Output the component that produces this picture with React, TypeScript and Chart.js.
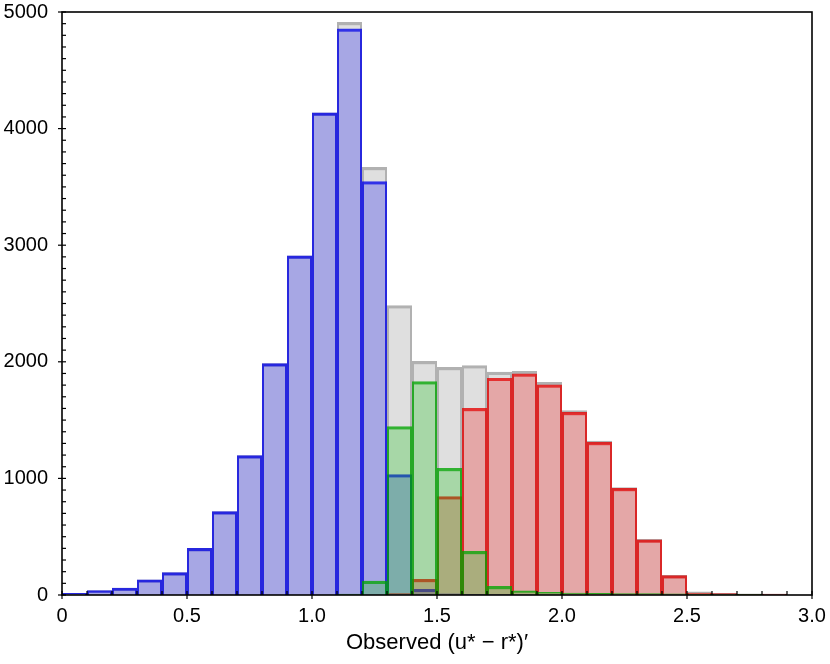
import React, { useEffect, useRef } from 'react';
import { Chart, registerables } from 'chart.js';

Chart.register(...registerables);

// Histogram bin centres (bin width 0.1, from 0.0 to 2.9)
const binCenters = [
  0.05, 0.15, 0.25, 0.35, 0.45, 0.55, 0.65, 0.75, 0.85, 0.95,
  1.05, 1.15, 1.25, 1.35, 1.45, 1.55, 1.65, 1.75, 1.85, 1.95,
  2.05, 2.15, 2.25, 2.35, 2.45, 2.55, 2.65, 2.75, 2.85,
];

// All objects (grey)
const totalCounts = [
  18, 40, 63, 134, 195, 403, 718, 1198, 1988, 2912,
  4138, 4914, 3671, 2485, 2007, 1955, 1970, 1915, 1921, 1827,
  1584, 1322, 925, 480, 172, 30, 18, 12, 10,
];

// Blue population
const blueCounts = [
  18, 40, 63, 134, 195, 403, 718, 1198, 1988, 2912,
  4138, 4858, 3548, 1035, 52, 12, 8, 6, 5, 4,
  4, 3, 3, 2, 2, 1, 0, 0, 0,
];

// Green population
const greenCounts = [
  0, 0, 0, 0, 0, 0, 0, 0, 0, 0,
  3, 10, 122, 1447, 1833, 1089, 377, 77, 38, 25,
  20, 18, 15, 14, 12, 10, 6, 8, 0,
];

// Red population
const redCounts = [
  0, 0, 0, 0, 0, 0, 0, 0, 0, 0,
  0, 0, 2, 15, 137, 846, 1604, 1862, 1900, 1805,
  1570, 1312, 918, 475, 169, 20, 14, 8, 10,
];

const xLabel = 'Observed (u* \u2212 r*)\u2032';

const FONT = '"Liberation Sans", Arial, sans-serif';

const toPoints = (vals: number[]) => vals.map((v, i) => ({ x: binCenters[i], y: v }));

const isMultiple = (v: number, step: number) => Math.abs(v / step - Math.round(v / step)) < 1e-6;

const axisPlugin = {
  id: 'axisFrameTicks',
  afterDraw(chart: any) {
    const { ctx, chartArea: a, scales } = chart;
    const xs = scales.x;
    const ys = scales.y;
    ctx.save();
    ctx.strokeStyle = '#000';
    ctx.lineWidth = 1.2;
    xs.ticks.forEach((t: any) => {
      const px = xs.getPixelForValue(t.value);
      const major = isMultiple(t.value, 0.5);
      ctx.beginPath();
      ctx.moveTo(px, a.bottom - 4);
      ctx.lineTo(px, major ? a.bottom + 4 : a.bottom);
      ctx.stroke();
    });
    ys.ticks.forEach((t: any) => {
      const py = ys.getPixelForValue(t.value);
      const major = isMultiple(t.value, 1000);
      ctx.beginPath();
      ctx.moveTo(major ? a.left - 4 : a.left, py);
      ctx.lineTo(a.left + 4, py);
      ctx.stroke();
    });
    ctx.lineWidth = 1.6;
    ctx.strokeRect(a.left, a.top, a.right - a.left, a.bottom - a.top);
    ctx.restore();
  },
};

export default function App() {
  const canvasRef = useRef<HTMLCanvasElement | null>(null);

  useEffect(() => {
    if (!canvasRef.current) return;
    const border = { top: 3.2, left: 2, right: 2, bottom: 0 };
    const chart = new Chart(canvasRef.current, {
      type: 'bar',
      data: {
        datasets: [
          {
            label: 'All',
            data: toPoints(totalCounts),
            backgroundColor: 'rgba(128,128,128,0.25)',
            borderColor: 'rgba(100,100,100,0.5)',
            borderWidth: border,
            borderSkipped: false,
            order: 4,
          },
          {
            label: 'Blue',
            data: toPoints(blueCounts),
            backgroundColor: 'rgba(0,0,245,0.25)',
            borderColor: 'rgba(0,0,235,0.78)',
            borderWidth: border,
            borderSkipped: false,
            order: 3,
          },
          {
            label: 'Red',
            data: toPoints(redCounts),
            backgroundColor: 'rgba(245,0,0,0.25)',
            borderColor: 'rgba(230,0,0,0.78)',
            borderWidth: border,
            borderSkipped: false,
            order: 2,
          },
          {
            label: 'Green',
            data: toPoints(greenCounts),
            backgroundColor: 'rgba(0,190,0,0.25)',
            borderColor: 'rgba(0,165,0,0.78)',
            borderWidth: border,
            borderSkipped: false,
            order: 1,
          },
        ],
      } as any,
      options: {
        animation: false,
        responsive: false,
        maintainAspectRatio: false,
        events: [],
        layout: { padding: { top: 12, right: 18, left: 0, bottom: 0 } },
        datasets: {
          bar: {
            grouped: false,
            barPercentage: 1,
            categoryPercentage: 1,
            inflateAmount: 0,
          },
        },
        plugins: {
          legend: { display: false },
          tooltip: { enabled: false },
          title: { display: false },
        },
        scales: {
          x: {
            type: 'linear',
            min: 0,
            max: 3,
            offset: false,
            grid: { display: false, drawTicks: false, offset: false },
            border: { display: false },
            ticks: {
              stepSize: 0.1,
              autoSkip: false,
              maxRotation: 0,
              minRotation: 0,
              padding: 9,
              color: '#000',
              font: { family: FONT, size: 20 },
              callback: (v: any) => {
                const n = Number(v);
                if (!isMultiple(n, 0.5)) return '';
                return Math.abs(n) < 1e-9 ? '0' : n.toFixed(1);
              },
            },
            title: {
              display: true,
              text: xLabel,
              color: '#000',
              font: { family: FONT, size: 22 },
              padding: { top: 0, bottom: 8 },
            },
            afterFit: (s: any) => {
              s.height = 69;
              s.paddingLeft = 0;
              s.paddingRight = 0;
            },
          },
          y: {
            type: 'linear',
            min: 0,
            max: 5000,
            grid: { display: false, drawTicks: false },
            border: { display: false },
            ticks: {
              stepSize: 100,
              autoSkip: false,
              maxTicksLimit: 1000,
              padding: 14,
              color: '#000',
              font: { family: FONT, size: 20 },
              callback: (v: any) => {
                const n = Number(v);
                return isMultiple(n, 1000) ? String(Math.round(n)) : '';
              },
            },
            afterFit: (s: any) => {
              s.width = 62;
              s.paddingTop = 0;
              s.paddingBottom = 0;
            },
          },
        },
      } as any,
      plugins: [axisPlugin],
    });
    return () => chart.destroy();
  }, []);

  return (
    <div style={{ position: 'absolute', left: 0, top: 0, width: 830, height: 664, background: '#fff' }}>
      <canvas ref={canvasRef} width={830} height={664} style={{ width: 830, height: 664, display: 'block' }} />
    </div>
  );
}
